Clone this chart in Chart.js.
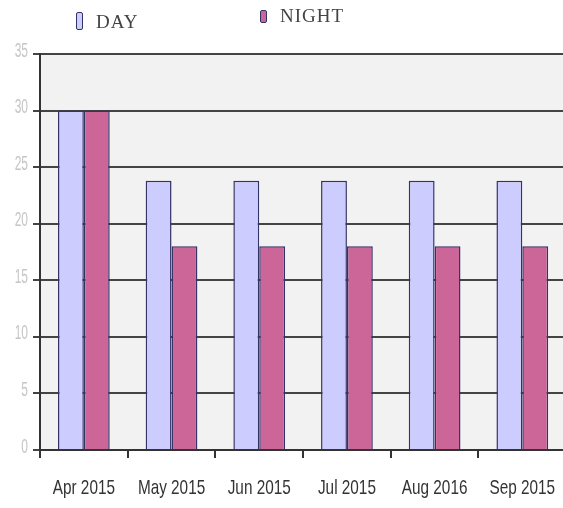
<!DOCTYPE html>
<html><head><meta charset="utf-8">
<script src="https://cdn.jsdelivr.net/npm/chart.js@4/dist/chart.umd.min.js"></script>
<style>
html,body{margin:0;padding:0;background:#fff;}
#wrap{position:relative;width:563px;height:508px;overflow:hidden;}
canvas{position:absolute;left:0;top:0;}
.lg{position:absolute;font-family:"Liberation Serif","DejaVu Serif",serif;color:#444;font-size:19px;letter-spacing:1px;line-height:1;}
.mk{position:absolute;border:1px solid #333366;border-radius:2px;}
</style>
</head><body>
<div id="wrap"><canvas id="c" width="574" height="508"></canvas></div>
<script>
const categories = ["Apr 2015","May 2015","Jun 2015","Jul 2015","Aug 2016","Sep 2015"];
const seriesNames = ["DAY","NIGHT"];
const dayValues = [30, 23.8, 23.8, 23.8, 23.8, 23.8];
const nightValues = [30, 18, 18, 18, 18, 18];
const yTicks = [0,5,10,15,20,25,30,35];

const colors = ["#ccccff","#cc6699"];

// legend as real text
const wrap = document.getElementById('wrap');
const legendPos = [{mx:76,my:12,mw:5,mh:16,tx:96,ty:12},{mx:260,my:10,mw:5,mh:11,tx:280,ty:6}];
seriesNames.forEach((n,i)=>{
  const p = legendPos[i];
  const m = document.createElement('div'); m.className='mk';
  m.style.cssText += `left:${p.mx}px;top:${p.my}px;width:${p.mw}px;height:${p.mh}px;background:${colors[i]};`;
  wrap.appendChild(m);
  const t = document.createElement('div'); t.className='lg'; t.textContent=n;
  t.style.left=p.tx+'px'; t.style.top=p.ty+'px';
  wrap.appendChild(t);
});

const bgPlugin = {
  id:'bg',
  beforeDraw(chart){
    const {ctx, chartArea:a} = chart;
    ctx.save(); ctx.fillStyle='#f2f2f2';
    ctx.fillRect(a.left,a.top,a.right-a.left,a.bottom-a.top);
    ctx.restore();
  },
  afterDraw(chart){
    const {ctx} = chart; const xs = chart.scales.x; const ys = chart.scales.y;
    // condensed x tick labels, positioned by the x scale
    ctx.save();
    ctx.fillStyle='#333';
    ctx.font='21px "Liberation Sans", Arial, sans-serif';
    ctx.textAlign='center'; ctx.textBaseline='middle';
    chart.data.labels.forEach((lab,i)=>{
      const x = xs.getPixelForValue(i);
      ctx.save();
      ctx.translate(x, 488);
      ctx.scale(0.73,1);
      ctx.fillText(lab, 0, 0);
      ctx.restore();
    });
    // condensed faint y tick labels, positioned by the y scale
    ctx.fillStyle='#c6c6c6';
    ctx.font='20px "Liberation Sans", Arial, sans-serif';
    ctx.textAlign='right';
    yTicks.forEach(v=>{
      const y = ys.getPixelForValue(v);
      ctx.save();
      ctx.translate(28, y-3);
      ctx.scale(0.6,1);
      ctx.fillText(String(v), 0, 0);
      ctx.restore();
    });
    ctx.restore();
  }
};

new Chart(document.getElementById('c'), {
  type:'bar',
  data:{
    labels:categories,
    datasets:[
      {label:seriesNames[0], data:dayValues, backgroundColor:colors[0], borderColor:'#333366', borderWidth:1.5, categoryPercentage:0.59, barPercentage:1.0},
      {label:seriesNames[1], data:nightValues, backgroundColor:colors[1], borderColor:'#333366', borderWidth:1.5, categoryPercentage:0.59, barPercentage:1.0}
    ]
  },
  options:{
    responsive:false, animation:false,
    devicePixelRatio:1,
    layout:{padding:{top:54,right:0,left:0,bottom:0}},
    plugins:{legend:{display:false}, tooltip:{enabled:false}},
    scales:{
      x:{
        grid:{drawOnChartArea:false, drawTicks:true, tickLength:8, offset:true, color:'#333', lineWidth:2},
        border:{color:'#333', width:2},
        ticks:{color:'rgba(0,0,0,0)', font:{family:'"Liberation Sans",Arial,sans-serif', size:12}, padding:26, maxRotation:0},
        afterFit(s){ s.height = 58; }
      },
      y:{
        min:0, max:35,
        afterBuildTicks(s){ s.ticks = yTicks.map(v=>({value:v})); },
        grid:{color:'#444', lineWidth:2, drawTicks:true, tickLength:7},
        border:{color:'#333', width:2},
        ticks:{color:'rgba(0,0,0,0)', font:{family:'"Liberation Sans",Arial,sans-serif', size:13}, padding:6},
        afterFit(s){ s.width = 40; }
      }
    }
  },
  plugins:[bgPlugin]
});
</script>
</body></html>
